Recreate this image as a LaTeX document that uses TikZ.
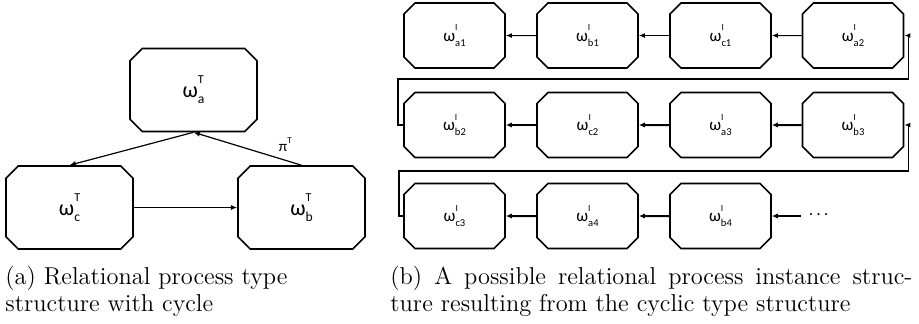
\documentclass[tikz,border=0pt]{standalone}
\usepackage{fontspec}
\usepackage{graphicx}
\usetikzlibrary{shapes.misc,arrows.meta}
\newfontfamily\carlito{Carlito}
% omega with a superscript and a subscript, sized relative to the current font
\newcommand\wsym[2]{{\carlito ω\rlap{\raisebox{0.62em}{\scalebox{0.55}{#1}}}\raisebox{-0.28em}{\scalebox{0.62}{#2}}}}
\tikzset{
  typebox/.style={chamfered rectangle, chamfered rectangle xsep=3.3pt, draw,
    line width=0.8pt, inner sep=0pt, minimum width=63.5pt, minimum height=41.5pt,
    font=\fontsize{11}{13}\selectfont},
  instbox/.style={chamfered rectangle, chamfered rectangle xsep=2.6pt, draw,
    line width=0.8pt, inner sep=0pt, minimum width=50.5pt, minimum height=32.5pt,
    font=\fontsize{8.5}{10}\selectfont},
  thinarrow/.style={line width=0.5pt, -{Latex[length=3pt,width=2.4pt]}},
  thickarrow/.style={line width=1pt, -{Latex[length=3pt,width=2.6pt]}},
  looparrow/.style={line width=0.75pt, -{Latex[length=3pt,width=2.4pt]}},
  typearrow/.style={line width=0.6pt, -{Latex[length=3.2pt,width=2.6pt]}},
  captext/.style={anchor=base west, inner sep=0pt, font=\fontsize{12.2}{14}\selectfont},
}
\begin{document}
\begin{tikzpicture}[x=0.5pt, y=-0.5pt]
\useasboundingbox (0,0) rectangle (919,323);

% ---- type structure with cycle ----
\node[typebox] (ta) at (193.5,90)    {\wsym{T}{a}};
\node[typebox] (tc) at (69.5,207.5)  {\wsym{T}{c}};
\node[typebox] (tb) at (301.5,207.5) {\wsym{T}{b}};
\draw[typearrow] (ta.south) -- (tc.north);
\draw[typearrow] (tb.north) -- node[pos=0.15, above=0.5pt, font=\fontsize{7.5}{9}\selectfont] (pi) {\carlito π\raisebox{0.55em}{\scalebox{0.6}{T}}} (ta.south);
\draw[typearrow] (tc.east) -- (tb.east -| tb.west);

% ---- instance structure ----
\node[instbox] (a1) at (454.5,35.5) {\wsym{I}{a1}};
\node[instbox] (b1) at (587.5,35.5) {\wsym{I}{b1}};
\node[instbox] (c1) at (720.5,35.5) {\wsym{I}{c1}};
\node[instbox] (a2) at (853,35.5)   {\wsym{I}{a2}};

\node[instbox] (b2) at (454.5,125) {\wsym{I}{b2}};
\node[instbox] (c2) at (587.5,125) {\wsym{I}{c2}};
\node[instbox] (a3) at (720.5,125) {\wsym{I}{a3}};
\node[instbox] (b3) at (853,125)   {\wsym{I}{b3}};

\node[instbox] (c3) at (454.5,216) {\wsym{I}{c3}};
\node[instbox] (a4) at (587.5,216) {\wsym{I}{a4}};
\node[instbox] (b4) at (720.5,216) {\wsym{I}{b4}};
\node[inner xsep=4pt, inner ysep=1pt, anchor=west, font=\fontsize{7}{8}\selectfont] (more) at (801,216) {\carlito ·\hspace{2pt}·\hspace{2pt}·};

\coordinate (r1) at (908.5,79);
\coordinate (r2) at (908.5,171);

\draw[thinarrow] (b1) -- (a1);
\draw[thinarrow] (c1) -- (b1);
\draw[thinarrow] (a2) -- (c1);
\draw[looparrow] (b2.west) -- ++(-5,0) |- (r1) |- (a2.east);

\draw[thickarrow] (c2) -- (b2);
\draw[thickarrow] (a3) -- (c2);
\draw[thickarrow] (b3) -- (a3);
\draw[looparrow] (c3.west) -- ++(-4,0) |- (r2) |- (b3.east);

\draw[thickarrow] (a4) -- (c3);
\draw[thickarrow] (b4) -- (a4);
\draw[thickarrow] (more.west) -- (b4.east);

% ---- captions ----
\node[captext] (capa1) at (5,284)   {(a) Relational process type};
\node[captext] (capa2) at (5,311)   {structure with cycle};
\node[captext] (capb1) at (390,284) {\hbox to 261pt{(b) A possible relational process instance struc-}};
\node[captext] (capb2) at (390,311) {ture resulting from the cyclic type structure};
\end{tikzpicture}
\end{document}
